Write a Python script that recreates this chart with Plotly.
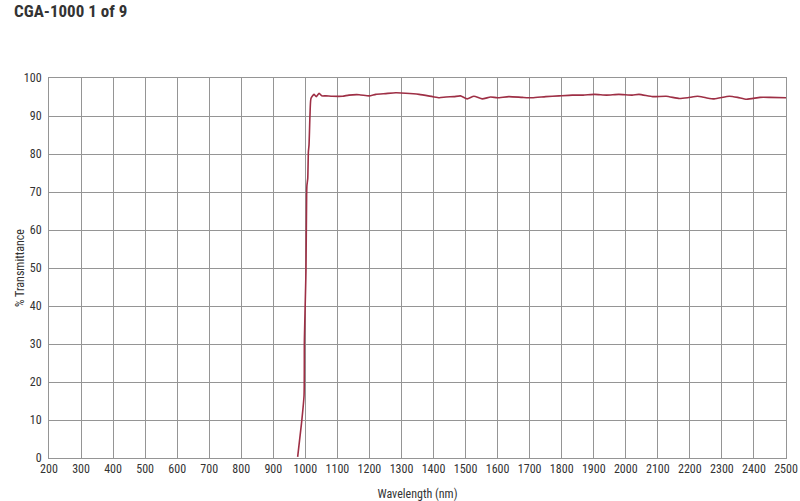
import plotly.graph_objects as go

wavelength_nm = [976, 988, 996, 997, 1001, 1002, 1004, 1005, 1007.5, 1009.5, 1011.5, 1014.5, 1017.5,
                 1027, 1034, 1043, 1051, 1064, 1084, 1116, 1136, 1168, 1199, 1220, 1251, 1282, 1313,
                 1355, 1397, 1418, 1439, 1464, 1484, 1505, 1526, 1552, 1578, 1599, 1635, 1677, 1708,
                 1750, 1792, 1833, 1867, 1903, 1940, 1978, 2020, 2041, 2084, 2126, 2167, 2193, 2224,
                 2250, 2276, 2323, 2349, 2377, 2419, 2450, 2500]
transmittance = [0.3, 9.1, 16.6, 31, 45.5, 49.5, 69.2, 71.8, 73.6, 80.6, 82.4, 90.3, 94.6,
                 95.7, 95.1, 96.0, 95.3, 95.3, 95.2, 95.2, 95.5, 95.6, 95.3, 95.7, 95.9, 96.1, 96.0,
                 95.7, 95.1, 94.8, 95.0, 95.1, 95.3, 94.5, 95.2, 94.5, 95.0, 94.8, 95.1, 94.9, 94.8,
                 95.1, 95.3, 95.5, 95.5, 95.7, 95.5, 95.7, 95.5, 95.7, 95.1, 95.2, 94.6, 94.8, 95.2,
                 94.8, 94.5, 95.2, 94.9, 94.4, 94.9, 94.9, 94.8]

x_ticks = list(range(200, 2501, 100))
y_ticks = list(range(0, 101, 10))

FONT = "Liberation Sans Narrow, Roboto Condensed, Arial Narrow, Liberation Sans, sans-serif"

W, H = 800, 501

fig = go.Figure()
fig.add_trace(go.Scatter(
    x=wavelength_nm, y=transmittance, mode="lines",
    line=dict(color="#9e2f45", width=1.6, shape="spline", smoothing=0.5),
    hoverinfo="x+y", showlegend=False,
))

fig.update_layout(
    width=W, height=H,
    margin=dict(l=49, r=14, t=78, b=43, autoexpand=False),
    paper_bgcolor="white", plot_bgcolor="white",
    font=dict(family=FONT, size=12, color="#333333"),
    title=dict(text="<b>CGA-1000 1 of 9</b>", xref="container", yref="container",
               x=14 / W, xanchor="left", y=1 - 11 / H, yanchor="middle",
               pad=dict(l=0, t=0, b=0, r=0),
               font=dict(family=FONT, size=17, color="#333333")),
    xaxis=dict(range=[200, 2500], tickvals=x_ticks, ticktext=[str(v) for v in x_ticks],
               showgrid=True, gridcolor="#959595", gridwidth=1, automargin=False,
               showline=True, linecolor="#959595", linewidth=1, mirror=True,
               ticks="", zeroline=False, ticklabelstandoff=0, ticklabeloverflow="allow",
               title=dict(text="Wavelength (nm)", standoff=14, font=dict(size=12))),
    yaxis=dict(range=[0, 100], tickvals=y_ticks, ticktext=[str(v) for v in y_ticks],
               showgrid=True, gridcolor="#959595", gridwidth=1, automargin=False,
               showline=True, linecolor="#959595", linewidth=1, mirror=True,
               ticks="", zeroline=False, ticklabelstandoff=4, ticklabeloverflow="allow"),
    annotations=[dict(text="% Transmittance", xref="paper", yref="paper", x=0, y=0.5,
                      xanchor="center", yanchor="middle", xshift=-29, textangle=-90,
                      showarrow=False, font=dict(family=FONT, size=12, color="#333333"))],
)

fig.write_html("out.html", config={"displayModeBar": False},
               post_script="document.body.style.margin='0';document.body.style.overflow='hidden';")
